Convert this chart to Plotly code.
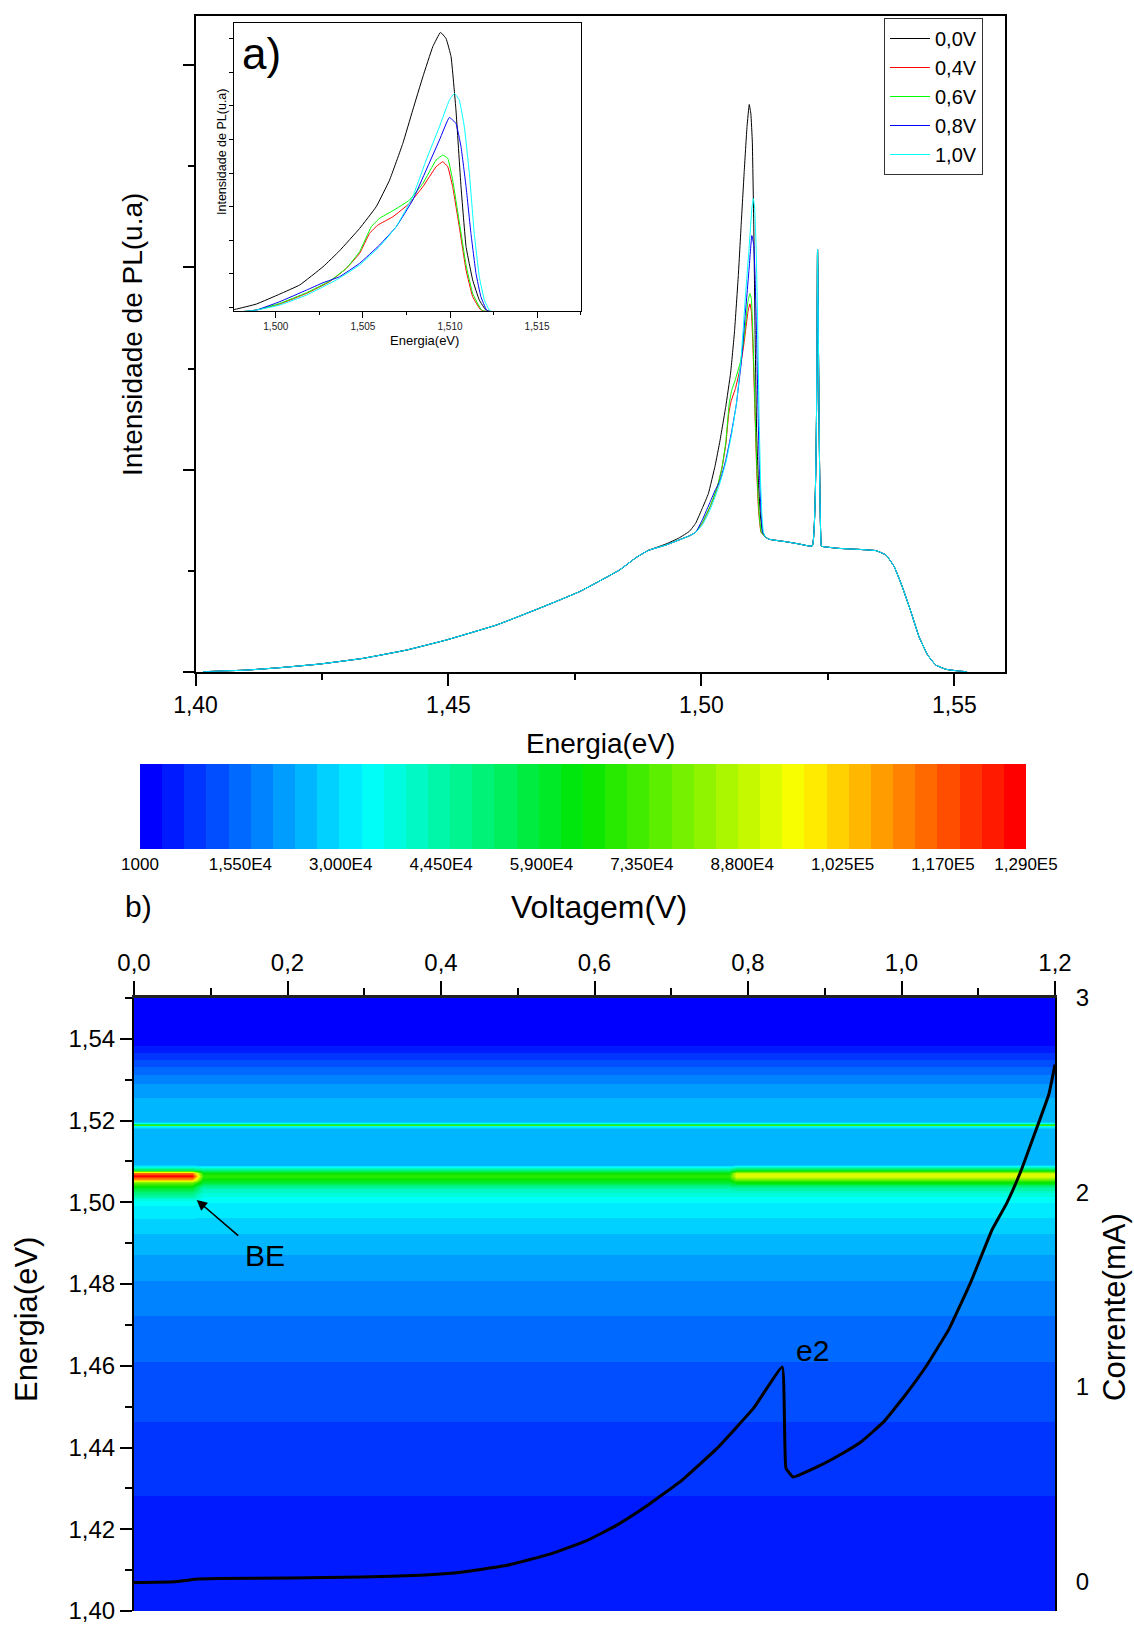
import plotly.graph_objects as go

# ---------------- data : panel a) PL spectra ----------------
# shared low-energy tail (all voltages)
E_left = [1.4015, 1.4101, 1.4167, 1.4246, 1.4331, 1.4417, 1.4496, 1.4595, 1.4680, 1.4759, 1.4838, 1.4871, 1.4895]
I_left = [0.000, 0.008, 0.020, 0.038, 0.066, 0.107, 0.157, 0.231, 0.314, 0.396, 0.503, 0.565, 0.600]

# peak region per voltage
E_00 = [1.4930, 1.4956, 1.49765, 1.49889, 1.50023, 1.50137, 1.50271, 1.50366, 1.50481, 1.50576, 1.50653, 1.50729,
        1.50786, 1.50844, 1.50901, 1.50945, 1.50977, 1.51006, 1.51034, 1.51063, 1.51092, 1.5113, 1.51168, 1.51206, 1.5127]
I_00 = [0.632, 0.662, 0.695, 0.736, 0.812, 0.881, 1.020, 1.142, 1.312, 1.477, 1.681, 1.960,
        2.214, 2.468, 2.697, 2.806, 2.760, 2.620, 2.214, 1.630, 1.173, 0.919, 0.766, 0.690, 0.665]

E_04 = [1.4930, 1.4956, 1.4976, 1.49889, 1.50023, 1.50176, 1.50309, 1.50405, 1.50481, 1.50538, 1.50586, 1.50672,
        1.50767, 1.50844, 1.5092, 1.50958, 1.50987, 1.51015, 1.51053, 1.51092, 1.5113, 1.51177, 1.5127]
I_04 = [0.627, 0.652, 0.672, 0.690, 0.736, 0.817, 0.906, 1.008, 1.122, 1.274, 1.338, 1.401,
        1.503, 1.630, 1.782, 1.820, 1.782, 1.630, 1.325, 0.995, 0.792, 0.690, 0.665]

E_06 = [1.4930, 1.4956, 1.4976, 1.49889, 1.50023, 1.50176, 1.50309, 1.50405, 1.50481, 1.50548, 1.50595, 1.50672,
        1.50767, 1.50844, 1.5092, 1.50958, 1.50987, 1.51015, 1.51053, 1.51092, 1.5113, 1.51181, 1.5127]
I_06 = [0.627, 0.652, 0.672, 0.690, 0.741, 0.822, 0.911, 1.008, 1.135, 1.325, 1.389, 1.447,
        1.528, 1.655, 1.833, 1.871, 1.846, 1.681, 1.363, 1.033, 0.817, 0.690, 0.665]

E_08 = [1.4930, 1.4956, 1.4976, 1.49889, 1.50023, 1.50176, 1.50271, 1.50366, 1.50481, 1.50595, 1.50691, 1.50786,
        1.50863, 1.50939, 1.50996, 1.51034, 1.51063, 1.51092, 1.5112, 1.51149, 1.51177, 1.5121, 1.5127]
I_08 = [0.627, 0.652, 0.672, 0.690, 0.754, 0.842, 0.898, 0.944, 1.046, 1.185, 1.325, 1.528,
        1.757, 1.985, 2.158, 2.112, 1.935, 1.630, 1.274, 0.969, 0.792, 0.690, 0.665]

E_10 = [1.4930, 1.4956, 1.4976, 1.49889, 1.50023, 1.50176, 1.50347, 1.50481, 1.50595, 1.50691, 1.50786, 1.50863,
        1.50939, 1.50996, 1.51025, 1.51053, 1.51082, 1.51111, 1.51139, 1.51168, 1.51197, 1.51225, 1.5127]
I_10 = [0.627, 0.652, 0.672, 0.690, 0.728, 0.804, 0.919, 1.033, 1.173, 1.325, 1.554, 1.833,
        2.087, 2.290, 2.341, 2.290, 2.087, 1.731, 1.274, 0.944, 0.766, 0.690, 0.665]

# shared high-energy part (plateau, sharp line, cut-off)
E_right = [1.5134, 1.5167, 1.5193, 1.5219, 1.52295, 1.5237, 1.5240, 1.5272, 1.5312, 1.5345, 1.5365, 1.5381,
           1.5397, 1.5414, 1.5430, 1.5447, 1.5463, 1.5483, 1.5509, 1.5525]
I_right = [0.655, 0.643, 0.632, 0.622, 2.090, 0.622, 0.619, 0.610, 0.605, 0.599, 0.577, 0.520,
           0.420, 0.297, 0.173, 0.083, 0.033, 0.012, 0.003, 0.000]

series_names = ["0,0V", "0,4V", "0,6V", "0,8V", "1,0V"]
series_E = [E_00, E_04, E_06, E_08, E_10]
series_I = [I_00, I_04, I_06, I_08, I_10]
series_colors = ["#000000", "#ff0000", "#00ff00", "#0000ff", "#00ffff"]

# ---------------- data : panel b) PL map + current ----------------
V_cols = [0.0, 0.075, 0.09, 0.775, 0.785, 1.2]
E_rows = [1.400, 1.420, 1.440, 1.460, 1.470, 1.480, 1.490, 1.495, 1.500, 1.502, 1.5035, 1.5048, 1.5058, 1.5065,
          1.5072, 1.5080, 1.5092, 1.5100, 1.5150, 1.5180, 1.5186, 1.5190, 1.5194, 1.5200, 1.5230, 1.5270,
          1.5300, 1.5330, 1.5360, 1.5380, 1.5400, 1.5450, 1.5500]
Z_low = [4200, 6100, 9200, 13500, 16100, 19800, 24800, 28600, 34000, 48000, 60000, 75000, 110000, 127000,
         115000, 55000, 27000, 25000, 25000, 25000, 33000, 72000, 33000, 25000, 24500, 22800,
         19000, 13800, 8700, 4800, 2300, 1000, 1000]
Z_mid = [4200, 6100, 9200, 13500, 16100, 19800, 24800, 28600, 33000, 38000, 43000, 57000, 66000, 71000,
         66000, 50000, 26000, 25000, 25000, 25000, 33000, 72000, 33000, 25000, 24500, 22800,
         19000, 13800, 8700, 4800, 2300, 1000, 1000]
Z_high = [4200, 6100, 9200, 13500, 16100, 19800, 24800, 28600, 33000, 38000, 45000, 62000, 80000, 93000,
          90000, 60000, 27000, 25000, 25000, 25000, 33000, 72000, 33000, 25000, 24500, 22800,
          19000, 13800, 8700, 4800, 2300, 1000, 1000]
col_profiles = [Z_low, Z_low, Z_mid, Z_mid, Z_high, Z_high]

V_cur = [0.0, 0.052, 0.080, 0.1085, 0.203, 0.297, 0.373, 0.429, 0.486, 0.543, 0.590, 0.628, 0.665, 0.7125,
         0.760, 0.807, 0.8446, 0.8494, 0.8587, 0.892, 0.920, 0.948, 0.977, 1.005, 1.033, 1.062, 1.090,
         1.118, 1.137, 1.156, 1.175, 1.192, 1.200]
I_cur = [-0.007, -0.003, 0.010, 0.014, 0.017, 0.022, 0.031, 0.048, 0.082, 0.141, 0.209, 0.286, 0.379, 0.515,
         0.685, 0.889, 1.102, 0.583, 0.536, 0.592, 0.651, 0.719, 0.821, 0.958, 1.111, 1.298, 1.536,
         1.808, 1.944, 2.114, 2.318, 2.505, 2.658]

cbar_vals = [1000, 15500, 30000, 44500, 59000, 73500, 88000, 102500, 117000, 129000]
cbar_text = ["1000", "1,550E4", "3,000E4", "4,450E4", "5,900E4", "7,350E4", "8,800E4", "1,025E5", "1,170E5", "1,290E5"]

# ---------------- helpers ----------------
W, H = 1134, 1625
FONT = "Liberation Sans, Arial, sans-serif"


def px(X):
    return X / W


def py(Y):
    return 1 - Y / H


anchors = [(0.0, (0, 0, 255)), (0.25, (0, 255, 255)), (0.5, (0, 230, 0)), (0.75, (255, 255, 0)), (1.0, (255, 0, 0))]


def rainbow(f):
    for (f0, c0), (f1, c1) in zip(anchors[:-1], anchors[1:]):
        if f <= f1:
            t = (f - f0) / (f1 - f0)
            return "rgb(%d,%d,%d)" % tuple(round(a + (b - a) * t) for a, b in zip(c0, c1))
    return "rgb(255,0,0)"


NLEV = 40
colorscale = []
for i in range(NLEV):
    c = rainbow(i / (NLEV - 1))
    colorscale.append([i / NLEV, c])
    colorscale.append([(i + 1) / NLEV, c])

fig = go.Figure()

# main spectra + inset (same data)
for name, E, I, col in zip(series_names, series_E, series_I, series_colors):
    xs = E_left + E + E_right
    ys = I_left + I + I_right
    fig.add_trace(go.Scatter(x=xs, y=ys, mode="lines", name=name,
                             line=dict(color=col, width=1, shape="spline", smoothing=0.3),
                             xaxis="x", yaxis="y", hoverinfo="skip"))
for name, E, I, col in zip(series_names, series_E, series_I, series_colors):
    xs = E_left + E + E_right
    ys = I_left + I + I_right
    fig.add_trace(go.Scatter(x=xs, y=ys, mode="lines", name=name,
                             line=dict(color=col, width=1, shape="spline", smoothing=0.3),
                             xaxis="x2", yaxis="y2", showlegend=False, hoverinfo="skip"))

# PL map
z = [[col_profiles[j][i] for j in range(len(V_cols))] for i in range(len(E_rows))]
fig.add_trace(go.Heatmap(
    x=V_cols, y=E_rows, z=z, zmin=1000, zmax=129000, zsmooth="best",
    colorscale=colorscale, xaxis="x3", yaxis="y3", hoverinfo="skip", showlegend=False,
    colorbar=dict(orientation="h", x=px(583), xanchor="center", y=py(764), yanchor="top",
                  len=886, lenmode="pixels", thickness=85, thicknessmode="pixels",
                  xpad=0, ypad=0, outlinewidth=0, ticks="",
                  tickvals=cbar_vals, ticktext=cbar_text,
                  tickfont=dict(family=FONT, size=17, color="black"))))

fig.add_trace(go.Scatter(x=V_cur, y=I_cur, mode="lines",
                         line=dict(color="black", width=3, shape="spline", smoothing=0.3),
                         xaxis="x3", yaxis="y4", showlegend=False, hoverinfo="skip"))

axis_common = dict(showgrid=False, zeroline=False, linecolor="black", tickcolor="black")

fig.update_layout(
    width=W, height=H, margin=dict(l=0, r=0, t=0, b=0),
    paper_bgcolor="white", plot_bgcolor="white", template="none",
    separators=",.",
    font=dict(family=FONT, color="black"),
    legend=dict(x=px(884), y=py(18), xanchor="left", yanchor="top", bgcolor="white",
                bordercolor="#333333", borderwidth=1, font=dict(family=FONT, size=20),
                tracegroupgap=0, itemwidth=40),
    xaxis=dict(domain=[px(195.5), px(1005)], anchor="y", range=[1.40, 1.56], tickmode="linear",
               tick0=1.40, dtick=0.05, tickformat=".2f", ticks="outside", ticklen=12, tickwidth=2,
               showline=True, linewidth=2, mirror=True,
               minor=dict(ticks="outside", ticklen=6, tickwidth=2, dtick=0.025, tick0=1.40, tickcolor="black"),
               tickfont=dict(size=23), **axis_common),
    yaxis=dict(domain=[py(671.7), py(16)], anchor="x", range=[0, 3.244], tickmode="linear", tick0=0,
               dtick=1, ticks="outside", ticklen=11, tickwidth=2, showticklabels=False,
               showline=True, linewidth=2, mirror=True,
               minor=dict(ticks="outside", ticklen=6, tickwidth=2, dtick=0.5, tick0=0, tickcolor="black"),
               **axis_common),
    xaxis2=dict(domain=[px(234), px(580.7)], anchor="y2", range=[1.4976, 1.5175], tickmode="linear",
                tick0=1.5, dtick=0.005, tickformat=".3f", ticks="outside", ticklen=6, tickwidth=1,
                showline=True, linewidth=1, mirror=True,
                minor=dict(ticks="outside", ticklen=3, tickwidth=1, dtick=0.0025, tick0=1.5, tickcolor="black"),
                tickfont=dict(size=10, color="#222222"), **axis_common),
    yaxis2=dict(domain=[py(310.7), py(22.7)], anchor="x2", range=[0.685, 2.88], tickmode="linear",
                tick0=0.7104, dtick=0.2558, ticks="outside", ticklen=4, tickwidth=1, showticklabels=False,
                showline=True, linewidth=1, mirror=True, **axis_common),
    xaxis3=dict(domain=[px(134), px(1055)], anchor="y3", side="top", range=[0, 1.2], tickmode="linear",
                tick0=0, dtick=0.2, tickformat=".1f", ticks="outside", ticklen=14, tickwidth=2,
                showline=True, linewidth=3, linecolor="#222222",
                minor=dict(ticks="outside", ticklen=7, tickwidth=2, dtick=0.1, tick0=0, tickcolor="black"),
                tickfont=dict(size=24), showgrid=False, zeroline=False, tickcolor="black"),
    yaxis3=dict(domain=[py(1611), py(998)], anchor="x3", range=[1.40, 1.55], tickmode="linear",
                tick0=1.40, dtick=0.02, tickformat=".2f", ticks="outside", ticklen=12, tickwidth=2,
                showline=True, linewidth=2,
                minor=dict(ticks="outside", ticklen=7, tickwidth=2, dtick=0.01, tick0=1.40, tickcolor="black"),
                tickfont=dict(size=24), **axis_common),
    yaxis4=dict(overlaying="y3", anchor="x3", side="right", range=[-0.153, 3.0], tickmode="array",
                tickvals=[0, 1, 2, 3], ticktext=["0", "1", "2", "3"], ticks="outside", ticklen=14,
                tickcolor="rgba(0,0,0,0)", showline=True, linewidth=2, linecolor="black",
                tickfont=dict(size=24), showgrid=False, zeroline=False),
)

ann = []


def label(text, X, Y, size, angle=0):
    ann.append(dict(text=text, x=px(X), y=py(Y), xref="paper", yref="paper", showarrow=False,
                    xanchor="center", yanchor="middle", textangle=angle,
                    font=dict(family=FONT, size=size, color="black")))


label("Intensidade de PL(u.a)", 133, 335, 28, -90)
label("Energia(eV)", 600, 744, 28)
label("a)", 261, 54, 44)
label("Energia(eV)", 424, 341, 13)
label("Intensidade de PL(u.a)", 222, 152, 12.5, -90)
label("b)", 138, 907, 30)
label("Voltagem(V)", 599, 907, 32)
label("Energia(eV)", 26, 1320, 31, -90)
label("Corrente(mA)", 1114, 1307, 31, -90)
label("BE", 265, 1255, 30)
label("e2", 812, 1350, 30)
ann.append(dict(text="", x=px(196.7), y=py(1200), xref="paper", yref="paper", showarrow=True,
                ax=43, ay=37, arrowhead=2, arrowsize=1.3, arrowwidth=1.6, arrowcolor="black"))
fig.update_layout(annotations=ann)

fig.write_html("out.html")
